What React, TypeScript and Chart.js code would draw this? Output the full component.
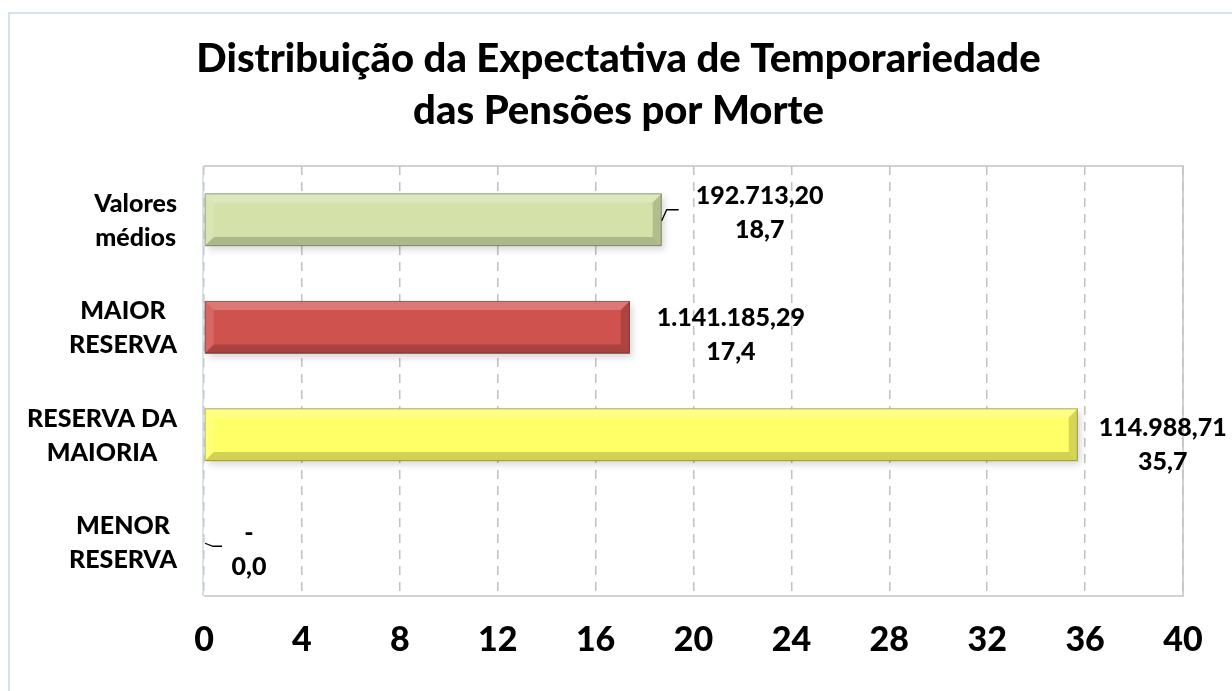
import React, { useEffect, useRef } from 'react';
import { Chart, registerables } from 'chart.js';

Chart.register(...registerables);

// ---------- data ----------
const titleLines = ['Distribuição da Expectativa de Temporariedade', 'das Pensões por Morte'];
const categories = [['Valores', 'médios'], ['MAIOR', 'RESERVA'], ['RESERVA DA', 'MAIORIA'], ['MENOR', 'RESERVA']];
const expectancyYears = [18.7, 17.4, 35.7, 0.0];
const reserveValues = [192713.2, 1141185.29, 114988.71, 0];
const xMin = 0;
const xMax = 40;
const xStep = 4;

// ---------- styles ----------
const FONT = 'Lato, "Open Sans", "DejaVu Sans", sans-serif';
const WEIGHT = '900';
const barColors = ['#d4e2a9', '#d0524f', '#ffff66', '#4f81bd'];
const labelDx = [98, 101, 85, 45];
const labelDy = [-16, -1, 1, -1];
const leaderPaths: (number[][] | null)[] = [
  [[0, 1], [5, -10], [17, -10]],
  null,
  null,
  [[1, 1], [9, 4], [18, 4]],
];

function fmtBR(v: number): string {
  if (v === 0) return '-';
  const [i, d] = v.toFixed(2).split('.');
  const withDots = i.replace(/\B(?=(\d{3})+(?!\d))/g, '.');
  return withDots + ',' + d;
}
function fmtYears(v: number): string {
  return v.toFixed(1).replace('.', ',');
}

const decorPlugin = {
  id: 'decor',
  beforeDraw(chart: any) {
    const ctx = chart.ctx;
    ctx.save();
    ctx.fillStyle = '#ffffff';
    ctx.fillRect(0, 0, chart.width, chart.height);
    ctx.strokeStyle = '#d6e2f0';
    ctx.lineWidth = 2;
    ctx.strokeRect(9, 13, chart.width + 20, chart.height + 20);
    ctx.restore();
  },
  beforeDatasetsDraw(chart: any) {
    const ctx = chart.ctx;
    const meta = chart.getDatasetMeta(0);
    meta.data.forEach((bar: any) => {
      const { x, y, base, height } = bar.getProps(['x', 'y', 'base', 'height'], true);
      if (Math.abs(x - base) < 2) return;
      ctx.save();
      ctx.shadowColor = 'rgba(0,0,0,0.45)';
      ctx.shadowBlur = 7;
      ctx.shadowOffsetX = 3;
      ctx.shadowOffsetY = 4;
      ctx.fillStyle = 'rgba(0,0,0,0.35)';
      ctx.fillRect(base, y - height / 2, x - base, height);
      ctx.restore();
    });
  },
  afterDatasetsDraw(chart: any) {
    const ctx = chart.ctx;
    const area = chart.chartArea;
    const xs = chart.scales.x;
    const ys = chart.scales.y;
    const meta = chart.getDatasetMeta(0);

    // bevel effect
    meta.data.forEach((bar: any) => {
      const { x, y, base, height } = bar.getProps(['x', 'y', 'base', 'height'], true);
      const L = Math.min(base, x);
      const R = Math.max(base, x);
      if (R - L < 2) return;
      const T = y - height / 2;
      const B = y + height / 2;
      const b = 9;
      const poly = (pts: number[][], fill: string) => {
        ctx.beginPath();
        ctx.moveTo(pts[0][0], pts[0][1]);
        for (let k = 1; k < pts.length; k++) ctx.lineTo(pts[k][0], pts[k][1]);
        ctx.closePath();
        ctx.fillStyle = fill;
        ctx.fill();
      };
      ctx.save();
      poly([[L, T], [R, T], [R - b, T + b], [L + b, T + b]], 'rgba(255,255,255,0.22)');
      poly([[L, B], [R, B], [R - b, B - b], [L + b, B - b]], 'rgba(0,0,0,0.18)');
      poly([[L, T], [L + b, T + b], [L + b, B - b], [L, B]], 'rgba(255,255,255,0.12)');
      poly([[R, T], [R - b, T + b], [R - b, B - b], [R, B]], 'rgba(0,0,0,0.16)');
      ctx.strokeStyle = 'rgba(0,0,0,0.25)';
      ctx.lineWidth = 1;
      ctx.strokeRect(L + 0.5, T + 0.5, R - L - 1, B - T - 1);
      ctx.restore();
    });

    // plot border
    ctx.save();
    ctx.strokeStyle = '#c3c3c3';
    ctx.lineWidth = 1.5;
    ctx.beginPath();
    ctx.moveTo(area.left, area.top);
    ctx.lineTo(area.right, area.top);
    ctx.lineTo(area.right, area.bottom);
    ctx.lineTo(area.left, area.bottom);
    ctx.stroke();
    ctx.strokeStyle = '#ccd6e3';
    ctx.beginPath();
    ctx.moveTo(area.left - 1, area.top);
    ctx.lineTo(area.left - 1, area.bottom);
    ctx.stroke();
    ctx.restore();

    // category labels (lines centered, block right-aligned)
    ctx.save();
    ctx.fillStyle = '#000';
    ctx.font = `${WEIGHT} 25px ${FONT}`;
    ctx.textAlign = 'center';
    ctx.textBaseline = 'alphabetic';
    categories.forEach((lines, i) => {
      const cy = ys.getPixelForValue(i);
      const w = Math.max(...lines.map((l) => ctx.measureText(l).width));
      const cx = area.left - 27 - w / 2;
      lines.forEach((l, j) => ctx.fillText(l, cx, cy - 8 + j * 34));
    });
    ctx.restore();

    // data labels
    ctx.save();
    ctx.fillStyle = '#000';
    ctx.font = `${WEIGHT} 25px ${FONT}`;
    ctx.textAlign = 'center';
    ctx.textBaseline = 'alphabetic';
    expectancyYears.forEach((v, i) => {
      const cy = ys.getPixelForValue(i);
      const ex = xs.getPixelForValue(v);
      const lx = ex + labelDx[i];
      const ly = cy + labelDy[i];
      ctx.fillText(fmtBR(reserveValues[i]), lx, ly);
      ctx.fillText(fmtYears(v), lx, ly + 34);
      const path = leaderPaths[i];
      if (path) {
        ctx.strokeStyle = '#000';
        ctx.lineWidth = 1.3;
        ctx.beginPath();
        path.forEach((p, k) => {
          if (k === 0) ctx.moveTo(ex + p[0], cy + p[1]);
          else ctx.lineTo(ex + p[0], cy + p[1]);
        });
        ctx.stroke();
      }
    });
    ctx.restore();
  },
};

export default function App() {
  const ref = useRef<HTMLCanvasElement | null>(null);
  useEffect(() => {
    document.body.style.margin = '0';
    const canvas = ref.current;
    if (!canvas) return;
    const chart = new Chart(canvas, {
      type: 'bar',
      data: {
        labels: categories.map((c) => c.join(' ')),
        datasets: [
          {
            data: expectancyYears,
            backgroundColor: barColors,
            barPercentage: 0.49,
            categoryPercentage: 1,
          },
        ],
      },
      options: {
        indexAxis: 'y',
        responsive: false,
        animation: false,
        layout: { padding: { left: 54, right: 49, top: 0, bottom: 0 } },
        plugins: {
          legend: { display: false },
          tooltip: { enabled: false },
          title: {
            display: true,
            text: titleLines,
            color: '#000',
            font: { family: FONT, size: 40, weight: WEIGHT, lineHeight: 1.3 },
            padding: { top: 33, bottom: 29 },
          },
        },
        scales: {
          x: {
            min: xMin,
            max: xMax,
            ticks: {
              stepSize: xStep,
              color: '#000',
              font: { family: FONT, size: 34, weight: WEIGHT },
              padding: 24,
            },
            grid: { color: '#c0c0c0', lineWidth: 1.5, drawTicks: false },
            border: { display: false, dash: [9, 7] },
            afterFit: (s: any) => {
              s.height = 95;
            },
          },
          y: {
            ticks: { display: false },
            grid: { display: false },
            border: { display: false },
            afterFit: (s: any) => {
              s.width = 150;
            },
          },
        },
      },
      plugins: [decorPlugin],
    } as any);
    return () => chart.destroy();
  }, []);
  return (
    <div style={{ width: 1232, height: 691 }}>
      <canvas ref={ref} width={1232} height={691} style={{ display: 'block' }} />
    </div>
  );
}
